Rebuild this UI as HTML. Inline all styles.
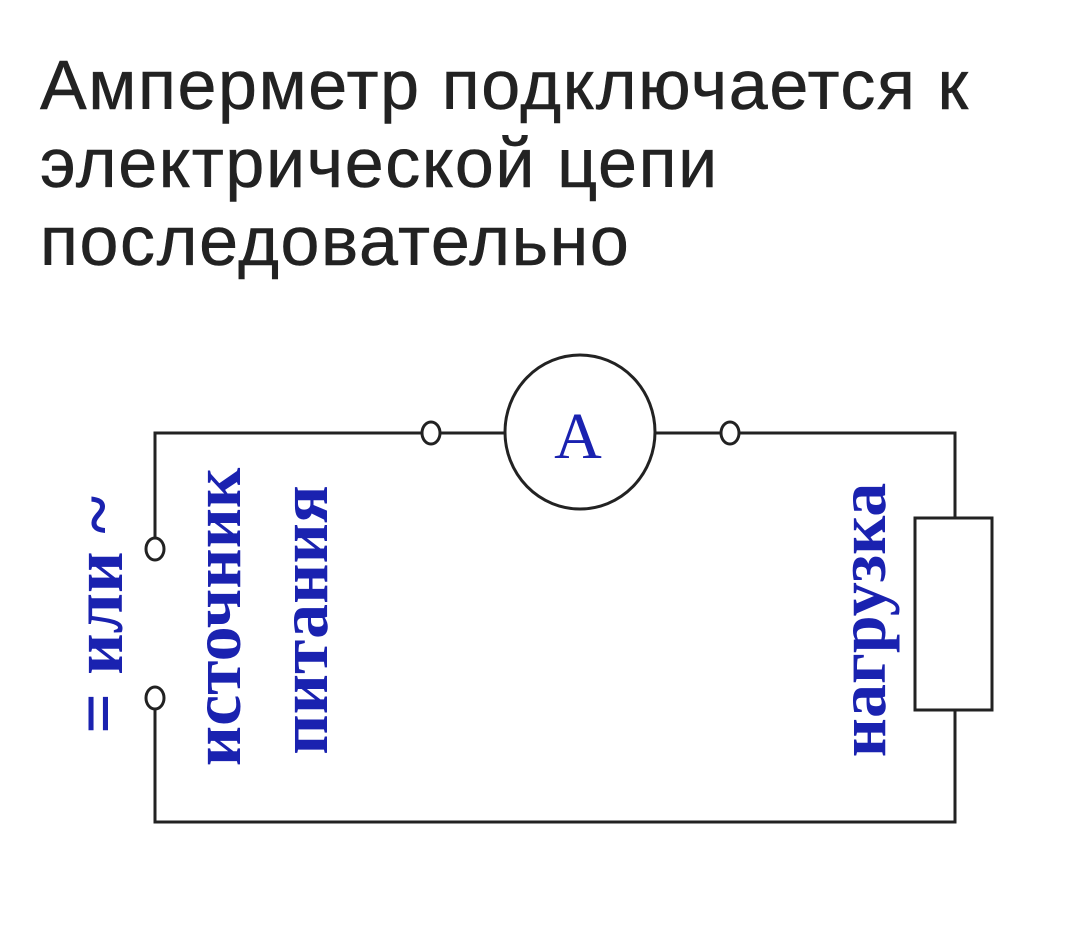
<!DOCTYPE html>
<html><head><meta charset="utf-8"><style>
html,body{margin:0;padding:0;background:#fff;}
body{width:1077px;height:930px;overflow:hidden;position:relative;}
.t{position:absolute;left:40px;font-family:"Liberation Sans",sans-serif;font-size:70px;letter-spacing:1.6px;color:#222;white-space:nowrap;line-height:78px;-webkit-text-stroke:0.5px #222;}
</style></head><body>
<div class="t" style="top:46px;">Амперметр подключается к<br>электрической цепи<br>последовательно</div>
<svg width="1077" height="930" style="position:absolute;left:0;top:0" xmlns="http://www.w3.org/2000/svg">
<g fill="none" stroke="#222" stroke-width="3">
<polyline points="155,539 155,433 422,433"/>
<line x1="440" y1="433" x2="505" y2="433"/>
<line x1="656" y1="433" x2="721" y2="433"/>
<polyline points="739,433 955,433 955,518"/>
<polyline points="155,708 155,822 955,822 955,710"/>
<rect x="915" y="518" width="77" height="192"/>
<ellipse cx="580" cy="432" rx="75" ry="77"/>
<ellipse cx="431" cy="433" rx="9" ry="11"/>
<ellipse cx="730" cy="433" rx="9" ry="11"/>
<ellipse cx="155" cy="549" rx="9" ry="11"/>
<ellipse cx="155" cy="698" rx="9" ry="11"/>
</g>
<g fill="#1a22b0" font-family="Liberation Serif,serif">
<text x="578" y="458" font-size="66" text-anchor="middle">A</text>
<text transform="translate(122,615) rotate(-90)" font-size="72" font-weight="bold" text-anchor="middle">= или ~</text>
<text transform="translate(240,617) rotate(-90)" font-size="70" font-weight="bold" text-anchor="middle">источник</text>
<text transform="translate(327,620) rotate(-90)" font-size="70" font-weight="bold" text-anchor="middle">питания</text>
<text transform="translate(885,620) rotate(-90)" font-size="68" font-weight="bold" text-anchor="middle">нагрузка</text>
</g>
</svg>
</body></html>
